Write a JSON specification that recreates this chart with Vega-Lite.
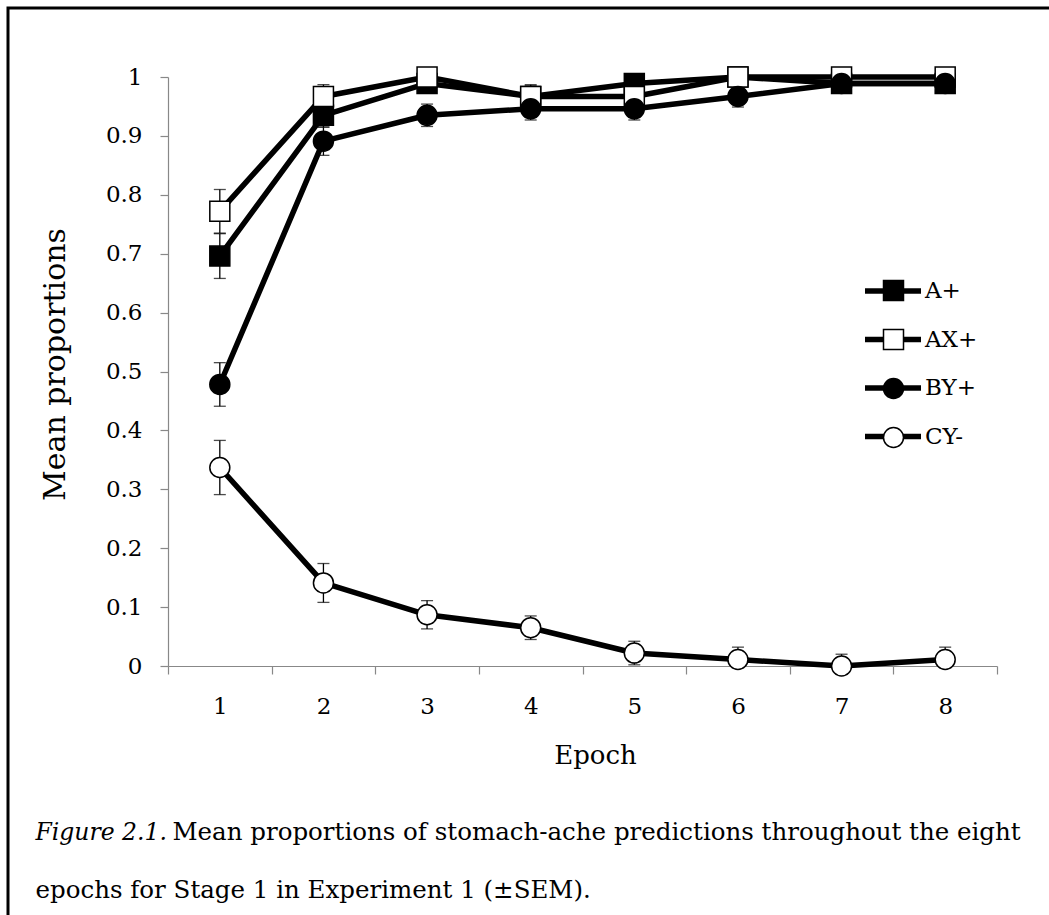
{
  "$schema": "https://vega.github.io/schema/vega-lite/v6.json",
  "width": 1100,
  "height": 960,
  "autosize": {"type": "none"},
  "padding": {"left": 8, "top": 8, "right": -59, "bottom": -53},
  "background": "white",
  "view": {"stroke": "black", "strokeWidth": 3, "fill": "white"},
  "config": {
    "font": "DejaVu Serif",
    "axis": {"grid": false, "labelFont": "DejaVu Serif", "titleFont": "DejaVu Serif", "labelColor": "black", "titleColor": "black", "titleFontWeight": "normal"},
    "legend": {"labelFont": "DejaVu Serif", "labelColor": "black"}
  },
  "data": {
    "values": [
      {"epoch": 1, "series": "A+", "mean": 0.696, "lo": 0.658, "hi": 0.734},
      {"epoch": 2, "series": "A+", "mean": 0.935, "lo": 0.915, "hi": 0.955},
      {"epoch": 3, "series": "A+", "mean": 0.989, "lo": 0.978, "hi": 1.0},
      {"epoch": 4, "series": "A+", "mean": 0.967, "lo": 0.949, "hi": 0.985},
      {"epoch": 5, "series": "A+", "mean": 0.989, "lo": 0.978, "hi": 1.0},
      {"epoch": 6, "series": "A+", "mean": 1.0, "lo": 1.0, "hi": 1.0},
      {"epoch": 7, "series": "A+", "mean": 0.989, "lo": 0.978, "hi": 1.0},
      {"epoch": 8, "series": "A+", "mean": 0.989, "lo": 0.978, "hi": 1.0},
      {"epoch": 1, "series": "AX+", "mean": 0.772, "lo": 0.735, "hi": 0.809},
      {"epoch": 2, "series": "AX+", "mean": 0.967, "lo": 0.947, "hi": 0.987},
      {"epoch": 3, "series": "AX+", "mean": 1.0, "lo": 1.0, "hi": 1.0},
      {"epoch": 4, "series": "AX+", "mean": 0.967, "lo": 0.947, "hi": 0.987},
      {"epoch": 5, "series": "AX+", "mean": 0.967, "lo": 0.947, "hi": 0.987},
      {"epoch": 6, "series": "AX+", "mean": 1.0, "lo": 1.0, "hi": 1.0},
      {"epoch": 7, "series": "AX+", "mean": 1.0, "lo": 1.0, "hi": 1.0},
      {"epoch": 8, "series": "AX+", "mean": 1.0, "lo": 1.0, "hi": 1.0},
      {"epoch": 1, "series": "BY+", "mean": 0.478, "lo": 0.441, "hi": 0.515},
      {"epoch": 2, "series": "BY+", "mean": 0.891, "lo": 0.867, "hi": 0.915},
      {"epoch": 3, "series": "BY+", "mean": 0.935, "lo": 0.916, "hi": 0.954},
      {"epoch": 4, "series": "BY+", "mean": 0.946, "lo": 0.927, "hi": 0.965},
      {"epoch": 5, "series": "BY+", "mean": 0.946, "lo": 0.927, "hi": 0.965},
      {"epoch": 6, "series": "BY+", "mean": 0.967, "lo": 0.949, "hi": 0.985},
      {"epoch": 7, "series": "BY+", "mean": 0.989, "lo": 0.978, "hi": 1.0},
      {"epoch": 8, "series": "BY+", "mean": 0.989, "lo": 0.978, "hi": 1.0},
      {"epoch": 1, "series": "CY-", "mean": 0.337, "lo": 0.291, "hi": 0.383},
      {"epoch": 2, "series": "CY-", "mean": 0.141, "lo": 0.108, "hi": 0.174},
      {"epoch": 3, "series": "CY-", "mean": 0.087, "lo": 0.063, "hi": 0.111},
      {"epoch": 4, "series": "CY-", "mean": 0.065, "lo": 0.045, "hi": 0.085},
      {"epoch": 5, "series": "CY-", "mean": 0.022, "lo": 0.002, "hi": 0.042},
      {"epoch": 6, "series": "CY-", "mean": 0.011, "lo": 0.0, "hi": 0.032},
      {"epoch": 7, "series": "CY-", "mean": 0.0, "lo": 0.0, "hi": 0.02},
      {"epoch": 8, "series": "CY-", "mean": 0.011, "lo": 0.0, "hi": 0.032}
    ]
  },
  "resolve": {"axis": {"x": "independent", "y": "independent"}},
  "layer": [
    {
      "mark": {"type": "rule", "color": "black", "strokeWidth": 1.3},
      "encoding": {
        "x": {"field": "epoch", "type": "ordinal", "scale": {"type": "band", "range": [160, 989], "paddingInner": 0, "paddingOuter": 0},
          "axis": {"orient": "bottom", "domain": false, "ticks": false, "labels": false, "title": "epochs for Stage 1 in Experiment 1 (±SEM).", "titleX": 27, "titleY": -71, "titleAlign": "left", "titleBaseline": "alphabetic", "titleFontSize": 24.5}},
        "y": {"field": "lo", "type": "quantitative", "scale": {"domain": [0, 1], "range": [658, 69], "nice": false}, "axis": null},
        "y2": {"field": "hi"}
      }
    },
    {
      "mark": {"type": "tick", "color": "black", "size": 12, "thickness": 1.3, "orient": "horizontal"},
      "encoding": {
        "x": {"field": "epoch", "type": "ordinal", "scale": {"type": "band", "range": [160, 989], "paddingInner": 0, "paddingOuter": 0},
          "axis": {"orient": "bottom", "domain": false, "ticks": false, "labels": false, "title": "Mean proportions of stomach-ache predictions throughout the eight", "titleX": 164, "titleY": -129, "titleAlign": "left", "titleBaseline": "alphabetic", "titleFontSize": 24.5}},
        "y": {"field": "hi", "type": "quantitative", "scale": {"domain": [0, 1], "range": [658, 69], "nice": false}, "axis": null}
      }
    },
    {
      "mark": {"type": "tick", "color": "black", "size": 12, "thickness": 1.3, "orient": "horizontal"},
      "encoding": {
        "x": {"field": "epoch", "type": "ordinal", "scale": {"type": "band", "range": [160, 989], "paddingInner": 0, "paddingOuter": 0},
          "axis": {"orient": "bottom", "domain": false, "ticks": false, "labels": false, "title": "Figure 2.1.", "titleX": 27, "titleY": -129, "titleAlign": "left", "titleBaseline": "alphabetic", "titleFontSize": 23.5, "titleFontStyle": "italic"}},
        "y": {"field": "lo", "type": "quantitative", "scale": {"domain": [0, 1], "range": [658, 69], "nice": false}, "axis": null}
      }
    },
    {
      "mark": {"type": "line", "color": "black", "strokeJoin": "round"},
      "encoding": {
        "x": {"field": "epoch", "type": "ordinal", "scale": {"type": "band", "range": [160, 989], "paddingInner": 0, "paddingOuter": 0},
          "axis": {"orient": "bottom", "offset": -302, "tickBand": "extent", "domainColor": "#888888", "tickColor": "#888888", "domainWidth": 1.2, "tickWidth": 1.2, "tickSize": 8, "labelFontSize": 23, "labelAngle": 0, "labelBaseline": "alphabetic", "labelPadding": 39, "title": "Epoch", "titleFontSize": 26, "titleX": 587, "titleY": 97, "titleAlign": "center", "titleBaseline": "alphabetic"}},
        "y": {"field": "mean", "type": "quantitative", "scale": {"domain": [0, 1], "range": [658, 69], "nice": false},
          "axis": {"orient": "left", "offset": -160, "values": [0, 0.1, 0.2, 0.3, 0.4, 0.5, 0.6, 0.7, 0.8, 0.9, 1], "format": "~g", "domainColor": "#888888", "tickColor": "#888888", "domainWidth": 1.2, "tickWidth": 1.2, "tickSize": 8, "labelFontSize": 23, "labelPadding": 18, "title": "Mean proportions", "titleFontSize": 30, "titleAngle": -90, "titleX": -104, "titleY": 356, "titleAlign": "center", "titleBaseline": "alphabetic"}},
        "strokeWidth": {"field": "series", "type": "ordinal", "scale": {"domain": ["A+", "AX+", "BY+", "CY-"], "range": [5.5, 5.5, 5.5, 5.5]},
          "legend": {"orient": "none", "legendX": 854, "legendY": 252, "title": null, "padding": 0, "symbolType": "stroke", "symbolSize": 3136, "symbolStrokeColor": "black", "labelFontSize": 23, "labelOffset": 1, "rowPadding": 5.5}}
      }
    },
    {
      "mark": {"type": "point", "filled": true, "stroke": "black", "strokeWidth": 1.5, "size": 400, "opacity": 1},
      "encoding": {
        "x": {"field": "epoch", "type": "ordinal", "scale": {"type": "band", "range": [160, 989], "paddingInner": 0, "paddingOuter": 0}, "axis": null},
        "y": {"field": "mean", "type": "quantitative", "scale": {"domain": [0, 1], "range": [658, 69], "nice": false}, "axis": null},
        "shape": {"field": "series", "type": "nominal", "scale": {"range": ["square", "square", "circle", "circle"]},
          "legend": {"orient": "none", "legendX": 874, "legendY": 271, "title": null, "padding": 0, "symbolSize": 400, "labelFontSize": 23, "labelExpr": "''", "rowPadding": 22,
            "encode": {"symbols": {"update": {"stroke": {"value": "black"}, "strokeWidth": {"value": 1.5}}}}}},
        "fill": {"field": "series", "type": "nominal", "scale": {"range": ["black", "white", "black", "white"]},
          "legend": {"orient": "none", "legendX": 874, "legendY": 271, "title": null, "padding": 0, "symbolSize": 400, "labelFontSize": 23, "labelExpr": "''", "rowPadding": 22,
            "encode": {"symbols": {"update": {"stroke": {"value": "black"}, "strokeWidth": {"value": 1.5}}}}}}
      }
    }
  ]
}
